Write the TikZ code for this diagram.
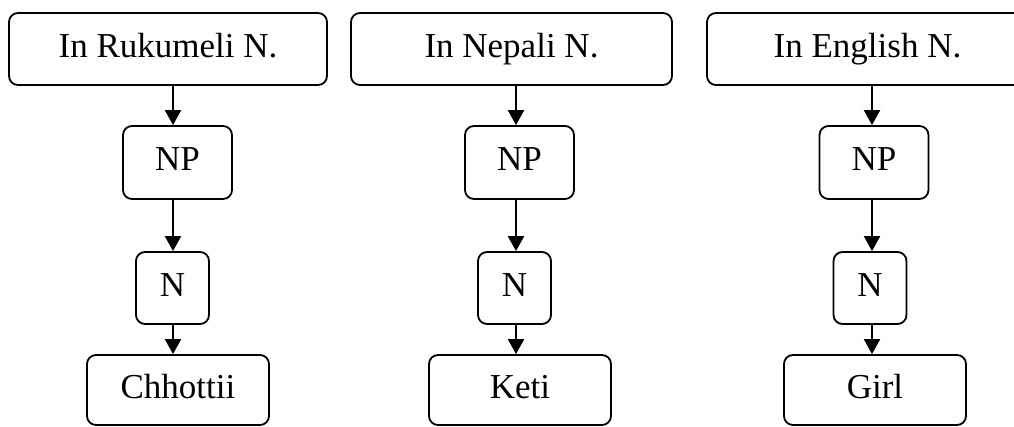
\documentclass[tikz,border=0pt]{standalone}
\usepackage{fontspec}
\setmainfont{Liberation Serif}
\usetikzlibrary{arrows.meta}
\tikzset{
  box/.style={draw, line width=1.8pt, rounded corners=9pt, inner sep=0pt,
    font=\fontsize{35}{40}\selectfont, text height=24pt, text depth=8pt},
  arr/.style={line width=2pt, -{Triangle[width=16pt,length=15pt]}}
}
\begin{document}
\begin{tikzpicture}[x=1pt,y=-1pt]
\useasboundingbox (0,0) rectangle (1014,426);
\clip (0,0) rectangle (1014,426);
% column axes
\coordinate (c1) at (173,0);
\coordinate (c2) at (516,0);
\coordinate (c3) at (872,0);
% language headers
\node[box, minimum width=318pt, minimum height=72pt] (t1) at (168,49) {In Rukumeli N.};
\node[box, minimum width=321pt, minimum height=72pt] (t2) at (511.5,49) {In Nepali N.};
\node[box, minimum width=321pt, minimum height=72pt] (t3) at (867.5,49) {In English N.};
% NP level
\node[box, minimum width=109pt, minimum height=73pt] (np1) at (177.5,162.5) {NP};
\node[box, minimum width=109pt, minimum height=73pt] (np2) at (519.5,162.5) {NP};
\node[box, minimum width=109pt, minimum height=73pt] (np3) at (874,162.5) {NP};
% N level
\node[box, minimum width=73pt, minimum height=72pt] (n1) at (172.5,288) {N};
\node[box, minimum width=73pt, minimum height=72pt] (n2) at (514.5,288) {N};
\node[box, minimum width=73pt, minimum height=72pt] (n3) at (870,288) {N};
% words
\node[box, minimum width=182pt, minimum height=70pt] (w1) at (178,390) {Chhottii};
\node[box, minimum width=182pt, minimum height=70pt] (w2) at (520,390) {Keti};
\node[box, minimum width=182pt, minimum height=70pt] (w3) at (875,390) {Girl};
% connectors
\foreach \c in {1,2,3}{
  \draw[arr] (t\c.south -| c\c) -- (np\c.north -| c\c);
  \draw[arr] (np\c.south -| c\c) -- (n\c.north -| c\c);
  \draw[arr] (n\c.south -| c\c) -- (w\c.north -| c\c);
}
\end{tikzpicture}
\end{document}
